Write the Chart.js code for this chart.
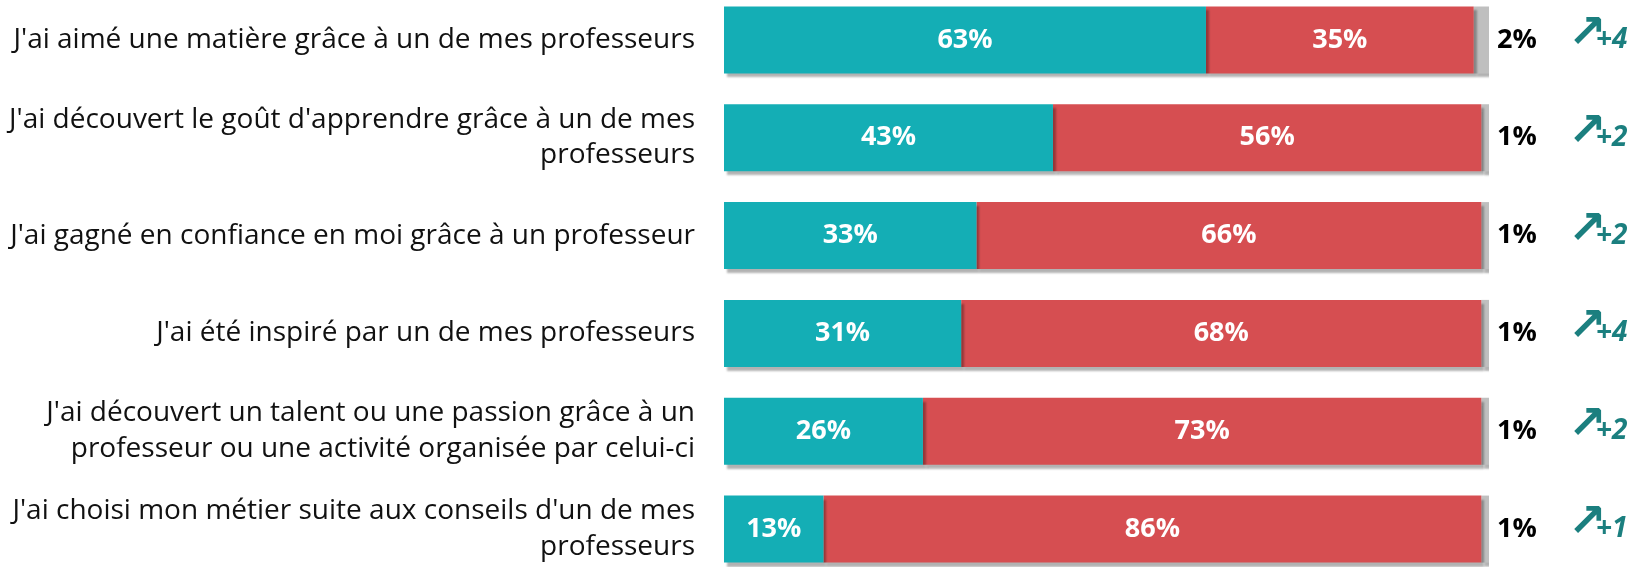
<!DOCTYPE html>
<html>
<head>
<meta charset="utf-8">
<script src="https://cdn.jsdelivr.net/npm/chart.js"></script>
<style>
  html, body { margin: 0; padding: 0; background: #fff; overflow: hidden; }
  #wrap { position: absolute; left: 0; top: -10px; width: 1634px; height: 588px; }
</style>
</head>
<body>
<div id="wrap"><canvas id="myChart"></canvas></div>
<script>
var categories = [
  "J'ai aimé une matière grâce à un de mes professeurs",
  ["J'ai découvert le goût d'apprendre grâce à un de mes", "professeurs"],
  "J'ai gagné en confiance en moi grâce à un professeur",
  "J'ai été inspiré par un de mes professeurs",
  ["J'ai découvert un talent ou une passion grâce à un", "professeur ou une activité organisée par celui-ci"],
  ["J'ai choisi mon métier suite aux conseils d'un de mes", "professeurs"]
];
var oui = [63, 43, 33, 31, 26, 13];
var non = [35, 56, 66, 68, 73, 86];
var nsp = [2, 1, 1, 1, 1, 1];
var evolution = ["+4", "+2", "+2", "+4", "+2", "+1"];

// shadow under the bars + value labels
var barLabels = {
  id: "barLabels",
  beforeDatasetsDraw: function (chart) {
    var ctx = chart.ctx;
    ctx.save();
    ctx.shadowColor = "rgba(0,0,0,0.3)";
    ctx.shadowOffsetX = 3;
    ctx.shadowOffsetY = 4;
    ctx.shadowBlur = 2;
  },
  afterDatasetsDraw: function (chart) {
    var ctx = chart.ctx;
    ctx.restore();
    ctx.save();
    var x = chart.scales.x;
    var y = chart.scales.y;
    ctx.textBaseline = "middle";
    ctx.textAlign = "center";
    ctx.fillStyle = "#fff";
    ctx.font = "bold 27px 'Open Sans'";
    [0, 1].forEach(function (d) {
      chart.getDatasetMeta(d).data.forEach(function (bar, i) {
        var v = chart.data.datasets[d].data[i];
        ctx.fillText(v + "%", (bar.x + bar.base) / 2, bar.y);
      });
    });
    var right = x.getPixelForValue(100);
    ctx.textAlign = "left";
    for (var i = 0; i < categories.length; i++) {
      var yc = y.getPixelForValue(i);
      ctx.fillStyle = "#000";
      ctx.font = "bold 27px 'Open Sans'";
      ctx.fillText(nsp[i] + "%", right + 8, yc);
      ctx.fillStyle = "#1b7f7f";
      ctx.font = "bold 46px 'DejaVu Sans'";
      ctx.fillText("\u2197", right + 79, yc - 5);
      ctx.font = "bold italic 28px 'Open Sans'";
      ctx.fillText(evolution[i], right + 107, yc);
    }
    ctx.restore();
  }
};

var ctx = document.getElementById("myChart").getContext("2d");
var myChart = new Chart(ctx, {
  type: "bar",
  data: {
    labels: categories,
    datasets: [
      { label: "Oui", data: oui, backgroundColor: "#14aeb5" },
      { label: "Non", data: non, backgroundColor: "#d64e51" },
      { label: "NSP", data: nsp, backgroundColor: "#bfbfbf" }
    ]
  },
  options: {
    indexAxis: "y",
    responsive: true,
    maintainAspectRatio: false,
    animation: false,
    layout: { padding: { top: 1, right: 145, bottom: 0, left: 0 } },
    datasets: {
      bar: { barPercentage: 0.685, categoryPercentage: 1 }
    },
    scales: {
      x: { stacked: true, min: 0, max: 100, display: false },
      y: {
        stacked: true,
        grid: { display: false, drawTicks: false },
        border: { display: false },
        ticks: {
          padding: 29,
          color: "#111",
          font: { family: "'Open Sans'", size: 28, lineHeight: 1.27 }
        },
        afterFit: function (scale) {
          scale.width = 724;
          scale.paddingTop = 0;
          scale.paddingBottom = 0;
        }
      }
    },
    plugins: {
      legend: { display: false },
      tooltip: { enabled: false }
    }
  },
  plugins: [barLabels]
});
</script>
</body>
</html>
